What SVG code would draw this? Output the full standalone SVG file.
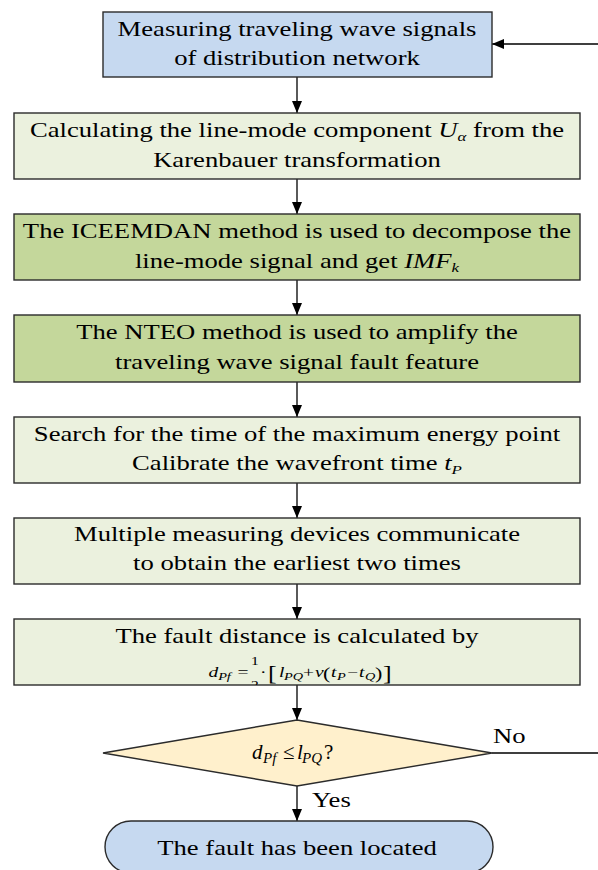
<svg xmlns="http://www.w3.org/2000/svg" width="598" height="870" viewBox="0 0 598 870">
<style>
.box{stroke:#2b2b2b;stroke-width:1.4}
.blue{fill:#c6d9f0}
.lg{fill:#ebf1de}
.dg{fill:#c4d79b}
.dia{fill:#fff0cc}
.t{font-family:"Liberation Serif","Times New Roman",serif;font-size:20.5px;fill:#000}
.f{font-family:"Liberation Serif","Times New Roman",serif;fill:#000}
.m{text-anchor:middle}
.i{font-style:italic}
.conn{stroke:#000;stroke-width:1.3;fill:none}
</style>
<defs>
<marker id="arr" markerUnits="userSpaceOnUse" markerWidth="12" markerHeight="10" refX="12" refY="5" orient="auto">
<path d="M0,0 L12,5 L0,10 z" fill="#000"/>
</marker>
<clipPath id="clip7"><rect x="14" y="619" width="566" height="66"/></clipPath>
</defs>
<g id="connectors">
<line class="conn" x1="297" y1="77" x2="297" y2="113" marker-end="url(#arr)"/>
<line class="conn" x1="297" y1="179" x2="297" y2="214" marker-end="url(#arr)"/>
<line class="conn" x1="297" y1="280" x2="297" y2="315" marker-end="url(#arr)"/>
<line class="conn" x1="297" y1="382" x2="297" y2="417" marker-end="url(#arr)"/>
<line class="conn" x1="297" y1="483" x2="297" y2="518" marker-end="url(#arr)"/>
<line class="conn" x1="297" y1="584" x2="297" y2="619" marker-end="url(#arr)"/>
<line class="conn" x1="297" y1="685" x2="297" y2="720" marker-end="url(#arr)"/>
<line class="conn" x1="297" y1="786" x2="297" y2="821" marker-end="url(#arr)"/>
<path class="conn" d="M492,753 H599.5 V44 H492" marker-end="url(#arr)"/>
<g transform="scale(1.3,1)">
<text class="t" x="379.2" y="743">No</text>
<text class="t" x="240" y="807">Yes</text>
</g>
</g>
<g id="n1">
<rect class="box blue" x="103" y="12" width="389" height="65"/>
<g transform="scale(1.3,1)">
<text class="t m" x="228.46" y="36.5">Measuring traveling wave signals</text>
<text class="t m" x="228.46" y="65.5">of distribution network</text>
</g>
</g>
<g id="n2">
<rect class="box lg" x="14" y="113" width="566" height="66"/>
<g transform="scale(1.3,1)">
<text class="t m" x="228.46" y="137.5">Calculating the line-mode component <tspan class="i">U</tspan><tspan class="i" font-size="13" dy="4">α</tspan><tspan dy="-4"> from the</tspan></text>
<text class="t m" x="228.46" y="167">Karenbauer transformation</text>
</g>
</g>
<g id="n3">
<rect class="box dg" x="14" y="214" width="566" height="66"/>
<g transform="scale(1.3,1)">
<text class="t m" x="228.46" y="238.5">The ICEEMDAN method is used to decompose the</text>
<text class="t m" x="228.46" y="268">line-mode signal and get <tspan class="i">IMF</tspan><tspan class="i" font-size="13" dy="4">k</tspan></text>
</g>
</g>
<g id="n4">
<rect class="box dg" x="14" y="315" width="566" height="67"/>
<g transform="scale(1.3,1)">
<text class="t m" x="228.46" y="339.5">The NTEO method is used to amplify the</text>
<text class="t m" x="228.46" y="369">traveling wave signal fault feature</text>
</g>
</g>
<g id="n5">
<rect class="box lg" x="14" y="417" width="566" height="66"/>
<g transform="scale(1.3,1)">
<text class="t m" x="228.46" y="441.5">Search for the time of the maximum energy point</text>
<text class="t m" x="228.46" y="470.5">Calibrate the wavefront time <tspan class="i">t</tspan><tspan class="i" font-size="13" dy="4">P</tspan></text>
</g>
</g>
<g id="n6">
<rect class="box lg" x="14" y="518" width="566" height="66"/>
<g transform="scale(1.3,1)">
<text class="t m" x="228.46" y="541.5">Multiple measuring devices communicate</text>
<text class="t m" x="228.46" y="570">to obtain the earliest two times</text>
</g>
</g>
<g id="n7">
<rect class="box lg" x="14" y="619" width="566" height="66"/>
<g transform="scale(1.3,1)">
<text class="t m" x="228.46" y="643">The fault distance is calculated by</text>
</g>
<g clip-path="url(#clip7)">
<g transform="scale(1.3,1)">
<text class="f" font-size="15">
<tspan class="i" x="160.3" y="677">d</tspan>
<tspan class="i" font-size="11" x="167.8" y="680">Pf</tspan>
<tspan x="182.6" y="677">=</tspan>
<tspan font-size="12" x="193.1" y="665">1</tspan>
<tspan font-size="12" x="193.1" y="689">2</tspan>
<tspan x="200" y="677">·</tspan>
<tspan font-size="20" x="206.2" y="680">[</tspan>
<tspan class="i" x="214.6" y="677">l</tspan>
<tspan class="i" font-size="11" x="218.5" y="680">PQ</tspan>
<tspan x="233.1" y="677">+</tspan>
<tspan class="i" x="242.3" y="677">v</tspan>
<tspan font-size="17" x="248.5" y="679">(</tspan>
<tspan class="i" x="254.6" y="677">t</tspan>
<tspan class="i" font-size="11" x="259.2" y="680">P</tspan>
<tspan x="266.9" y="677">−</tspan>
<tspan class="i" x="276.2" y="677">t</tspan>
<tspan class="i" font-size="11" x="280.8" y="680">Q</tspan>
<tspan font-size="17" x="288.5" y="679">)</tspan>
<tspan font-size="20" x="294.6" y="680">]</tspan>
</text>
</g>
</g>
</g>
<g id="n8">
<polygon class="box dia" points="297,720 492,753 297,786 103,753"/>
<text class="f" font-size="21">
<tspan class="i" x="252" y="759">d</tspan>
<tspan class="i" font-size="15" x="263" y="763">Pf</tspan>
<tspan x="283" y="759">≤</tspan>
<tspan class="i" x="297" y="759">l</tspan>
<tspan class="i" font-size="15" x="302" y="763">PQ</tspan>
<tspan x="324" y="759">?</tspan>
</text>
</g>
<g id="n9">
<rect class="box blue" x="105" y="821" width="388" height="52" rx="26" ry="26"/>
<g transform="scale(1.3,1)">
<text class="t m" x="228.46" y="855">The fault has been located</text>
</g>
</g>
</svg>
